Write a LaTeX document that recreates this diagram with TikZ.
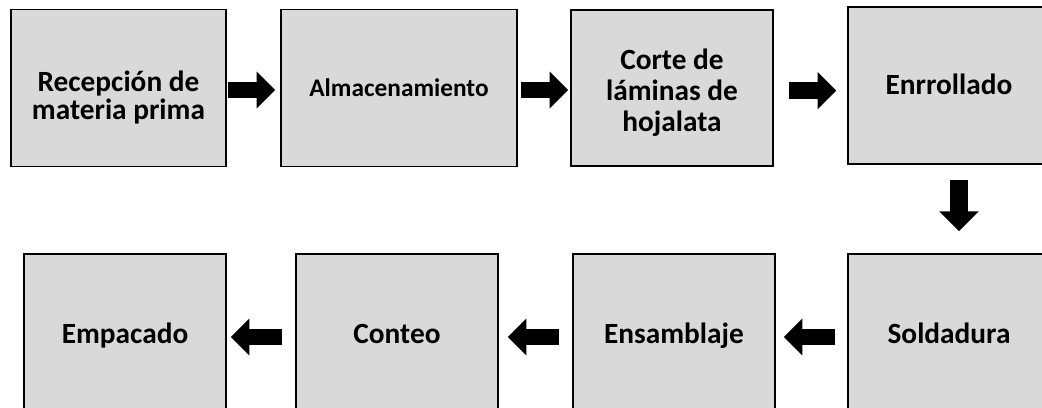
\documentclass[tikz,border=0pt]{standalone}
\usepackage{fontspec}
\setmainfont{Carlito}
\usetikzlibrary{arrows.meta}

\tikzset{
	paso/.style={draw=black, line width=1.1pt, fill=black!15, align=center,
		font=\fontsize{22}{22.5}\selectfont\bfseries, inner sep=0pt,
		text height=14.2pt, text depth=0pt},
	flecha/.style={line width=12.5pt, -{Triangle[width=27pt, length=14pt]}},
}

\begin{document}
\begin{tikzpicture}[x=0.75pt, y=-0.75pt]
			%%%%% START %%%%%
			\clip (0, 0) rectangle (1042, 407);
			
			\node[paso, minimum width=161.25pt, minimum height=118pt, text height=47.2pt,
				font=\fontsize{22}{21}\selectfont\bfseries] (recepcion) at (118.5, 88) {Recepción de\\materia prima};
			\node[paso, minimum width=177pt, minimum height=118pt, text height=12.2pt,
				font=\fontsize{19}{21}\selectfont\bfseries] (almacen) at (399, 88) {Almacenamiento};
			\node[paso, minimum width=151.5pt, minimum height=117pt, text height=65.7pt,
				font=\fontsize{22}{23.5}\selectfont\bfseries] (corte) at (672, 88) {Corte de\\láminas de\\hojalata};
			\node[paso, minimum width=151.5pt, minimum height=117.75pt] (enrollado) at (949, 85.5) {Enrrollado};
			
			\node[paso, minimum width=151.5pt, minimum height=120pt] (soldadura) at (949, 334) {Soldadura};
			\node[paso, minimum width=151.5pt, minimum height=120pt] (ensamblaje) at (674, 334) {Ensamblaje};
			\node[paso, minimum width=151.5pt, minimum height=120pt] (conteo) at (397, 334) {Conteo};
			\node[paso, minimum width=151.5pt, minimum height=120pt] (empacado) at (125, 334) {Empacado};
			
			\draw[flecha, shorten <=0.75pt, shorten >=3.75pt] ([yshift=-1.5pt]recepcion.east) -- ([yshift=-1.5pt]almacen.west);
			\draw[flecha, shorten <=2.25pt, shorten >=1.5pt] ([yshift=-1.5pt]almacen.east) -- ([yshift=-1.5pt]corte.west);
			\draw[flecha, shorten <=11.25pt, shorten >=8.25pt] ([yshift=-2pt]corte.east) -- ([yshift=-2pt]corte.east -| enrollado.west);
			
			\draw[flecha, line width=14pt, -{Triangle[width=29pt, length=15pt]}, shorten <=11.25pt, shorten >=16.5pt] ([xshift=7.5pt]enrollado.south) -- ([xshift=7.5pt]enrollado.south |- soldadura.north);
			
			\draw[flecha, shorten <=9pt, shorten >=6pt] ([yshift=-2.25pt]soldadura.west) -- ([yshift=-2.25pt]ensamblaje.east);
			\draw[flecha, shorten <=9.75pt, shorten >=6.75pt] ([yshift=-2.25pt]ensamblaje.west) -- ([yshift=-2.25pt]conteo.east);
			\draw[flecha, shorten <=9.75pt, shorten >=3pt] ([yshift=-2.25pt]conteo.west) -- ([yshift=-2.25pt]empacado.east);
			%%%%% END %%%%%
\end{tikzpicture}
\end{document}
